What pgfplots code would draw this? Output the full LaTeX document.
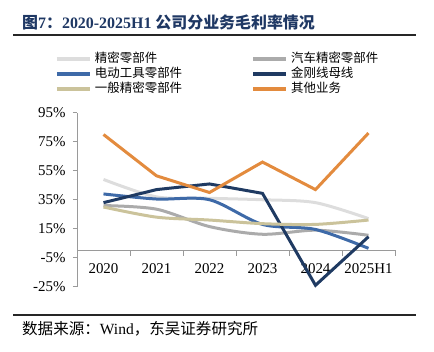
\documentclass[border=0pt]{standalone}
\usepackage{fontspec}
\usepackage{pgfplots}
\pgfplotsset{compat=1.18}
\setmainfont{Liberation Serif}
\newfontfamily\cjk{Noto Sans CJK SC}
\definecolor{cLight}{HTML}{DDDDDD}
\definecolor{cGrey}{HTML}{ABABAB}
\definecolor{cBlue}{HTML}{3E6AA8}
\definecolor{cNavy}{HTML}{1F3A62}
\definecolor{cTan}{HTML}{CBC39B}
\definecolor{cOrange}{HTML}{E38B3E}
\definecolor{titleblue}{HTML}{1F3864}
\definecolor{axisgrey}{HTML}{9A9A9A}
\begin{document}
\begin{tikzpicture}
\path[use as bounding box] (0,0) rectangle (434bp,352bp);
\node[anchor=west, inner sep=0pt, text=titleblue] at (22bp,330bp)
  {\fontsize{16}{16}\selectfont\bfseries{\cjk 图}7{\cjk ：}2020-2025H1 {\cjk 公司分业务毛利率情况}};
\draw[line width=2bp, black!85] (13bp,317bp) -- (416bp,317bp);
\draw[line width=2bp, black!85] (13bp,37bp) -- (416bp,37bp);
\node[anchor=west, inner sep=0pt] at (22bp,23bp)
  {\fontsize{15.6}{15.6}\selectfont{\cjk 数据来源：}Wind{\cjk ，东吴证券研究所}};
\begin{axis}[
  at={(77bp,65.25bp)}, anchor=south west,
  scale only axis, width=318bp, height=174bp,
  xmin=-0.5, xmax=5.5, ymin=-25, ymax=95,
  axis x line*=middle, axis y line*=left,
  axis line style={axisgrey, line width=0.8bp},
  tick align=outside,
  xtick={0,...,5},
  xticklabels={2020,2021,2022,2023,2024,2025H1},
  major x tick style={draw=none},
  minor xtick={-0.5,0.5,1.5,2.5,3.5,4.5,5.5},
  minor tick length=5bp,
  minor x tick style={axisgrey, line width=0.8bp},
  ytick={-25,-5,15,35,55,75,95},
  yticklabels={-25\%,-5\%,15\%,35\%,55\%,75\%,95\%},
  major tick length=4bp,
  y tick style={axisgrey, line width=0.8bp},
  tick label style={font=\fontsize{15}{15}\selectfont, text=black},
  xticklabel style={yshift=-6bp},
  yticklabel style={xshift=-4bp},
  clip=false,
  legend columns=2,
  legend style={draw=none, fill=none, inner sep=0pt, outer sep=0pt,
    at={(-0.0692,1.2227)}, anchor=west,
    font=\cjk\fontsize{12.5}{12.5}\selectfont,
    nodes={inner sep=0pt, text height=9bp, text depth=2bp},
    row sep=4bp,
    /tikz/every odd column/.append style={column sep=3bp},
    /tikz/every even column/.append style={column sep=69bp}},
  legend cell align=left,
  legend image code/.code={\draw[#1, line width=4bp] (0bp,0bp) -- (33bp,0bp);},
]
\addplot[cLight, line width=3bp, smooth] coordinates {(0,49) (1,37) (2,36) (3,35) (4,33) (5,22)};
\addlegendentry{精密零部件}
\addplot[cGrey, line width=3bp, smooth] coordinates {(0,31) (1,28.5) (2,16.5) (3,11.2) (4,14) (5,10.5)};
\addlegendentry{汽车精密零部件}
\addplot[cBlue, line width=3bp, smooth] coordinates {(0,39) (1,35.5) (2,35) (3,18) (4,14.5) (5,1.5)};
\addlegendentry{电动工具零部件}
\addplot[cNavy, line width=3bp] coordinates {(0,33) (1,42) (2,45.9) (3,39.4) (4,-24) (5,9.5)};
\addlegendentry{金刚线母线}
\addplot[cTan, line width=3bp, smooth] coordinates {(0,30) (1,23) (2,21) (3,18.5) (4,18) (5,21)};
\addlegendentry{一般精密零部件}
\addplot[cOrange, line width=3bp] coordinates {(0,80) (1,51.5) (2,40) (3,61) (4,42) (5,81)};
\addlegendentry{其他业务}
\end{axis}
\end{tikzpicture}
\end{document}
